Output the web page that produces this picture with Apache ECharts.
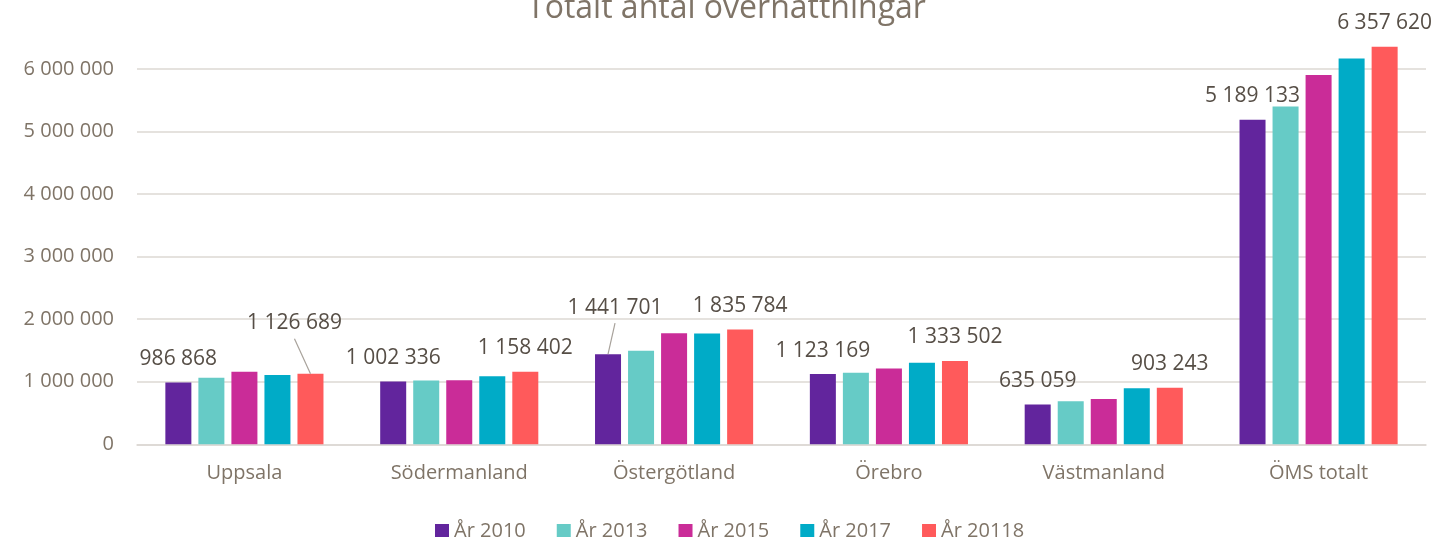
<!DOCTYPE html>
<html>
<head>
<meta charset="utf-8">
<script src="https://cdn.jsdelivr.net/npm/echarts@6/dist/echarts.min.js"></script>
<style>
  html, body { margin: 0; padding: 0; background: #fff; }
  #main { width: 1433px; height: 537px; }
</style>
</head>
<body>
<div id="main"></div>
<script>
var categories = ['Uppsala', 'Södermanland', 'Östergötland', 'Örebro', 'Västmanland', 'ÖMS totalt'];
var yearNames = ['År 2010', 'År 2013', 'År 2015', 'År 2017', 'År 20118'];

var y2010 = [986868, 1002336, 1441701, 1123169, 635059, 5189133];
var y2013 = [1065000, 1020000, 1495000, 1145000, 690000, 5400000];
var y2015 = [1160000, 1025000, 1775000, 1210000, 725000, 5905000];
var y2017 = [1110000, 1090000, 1772000, 1305000, 898000, 6170000];
var y2018 = [1126689, 1158402, 1835784, 1333502, 903243, 6357620];

var colors = ['#62259d', '#66cbc6', '#ca2c98', '#00abc7', '#ff5a5b'];

var axisText = '#7f7467';
var labelText = '#564e46';
var gridColor = '#dcd8d3';

var BAR_GAP = 0.27;
var CAT_GAP = 0.264;

function fmt(v) {
    return String(Math.round(v)).replace(/\B(?=(\d{3})+(?!\d))/g, ' ');
}

// flyttade etiketter (serie -> kategori -> förskjutning)
var movedLabels = {
    0: { 2: { dx: 7, dy: -23 } },   // År 2010, Östergötland
    4: { 0: { dx: -16, dy: -27 } }  // År 20118, Uppsala
};

function makeSeries(idx, values, showLabel) {
    var moved = movedLabels[idx] || {};
    return {
        name: yearNames[idx],
        type: 'bar',
        barGap: (BAR_GAP * 100) + '%',
        barCategoryGap: (CAT_GAP * 100) + '%',
        itemStyle: { color: colors[idx] },
        data: values,
        label: {
            show: showLabel,
            position: 'top',
            distance: 13,
            fontFamily: 'Open Sans',
            fontSize: 21,
            color: labelText,
            formatter: function (p) { return fmt(p.value); }
        },
        labelLayout: function (p) {
            var m = moved[p.dataIndex];
            return m ? { dx: m.dx, dy: m.dy } : {};
        }
    };
}

// hjälplinjer för de flyttade etiketterna
var seriesValues = [y2010, y2013, y2015, y2017, y2018];
var leaderData = [];
Object.keys(movedLabels).forEach(function (s) {
    Object.keys(movedLabels[s]).forEach(function (c) {
        leaderData.push([+c, seriesValues[s][c], +s]);
    });
});

var leaderSeries = {
    type: 'custom',
    silent: true,
    z: 5,
    data: leaderData,
    encode: { x: 0, y: 1 },
    renderItem: function (params, api) {
        var cat = api.value(0), s = api.value(2);
        var m = movedLabels[s][cat];
        var top = api.coord([cat, api.value(1)]);
        var catW = api.size([1, 0])[0];
        var groupW = catW * (1 - CAT_GAP);
        var barW = groupW / (5 + 4 * BAR_GAP);
        var bx = top[0] - groupW / 2 + s * barW * (1 + BAR_GAP) + barW / 2;
        var by = top[1];
        return {
            type: 'line',
            shape: { x1: bx + m.dx, y1: by - 25 + m.dy + 17, x2: bx, y2: by },
            style: { stroke: '#a8a29b', lineWidth: 1.2 }
        };
    }
};

var myChart = echarts.init(document.getElementById('main'));

var option = {
    backgroundColor: '#fff',
    animation: false,
    title: {
        text: 'Totalt antal övernattningar',
        left: 522,
        top: -12,
        textStyle: {
            fontFamily: 'Open Sans',
            fontSize: 32,
            fontWeight: 'normal',
            color: axisText
        }
    },
    legend: {
        data: yearNames,
        left: 430,
        top: 516,
        itemWidth: 14,
        itemHeight: 14,
        itemGap: 31,
        icon: 'rect',
        textStyle: {
            fontFamily: 'Open Sans',
            fontSize: 20,
            color: axisText
        }
    },
    grid: {
        left: 137,
        right: 7,
        top: 6.5,
        bottom: 92.7,
        containLabel: false
    },
    xAxis: {
        type: 'category',
        data: categories,
        axisTick: { show: false },
        axisLine: { lineStyle: { color: gridColor, width: 1.5 } },
        axisLabel: {
            margin: 19,
            fontFamily: 'Open Sans',
            fontSize: 20,
            color: axisText
        }
    },
    yAxis: {
        type: 'value',
        min: 0,
        max: 7000000,
        interval: 1000000,
        axisLine: { show: false },
        axisTick: { show: false },
        splitLine: {
            showMaxLine: false,
            lineStyle: { color: gridColor, width: 1.5 }
        },
        axisLabel: {
            showMaxLabel: false,
            margin: 23,
            fontFamily: 'Open Sans',
            fontSize: 20,
            color: axisText,
            formatter: fmt
        }
    },
    series: [
        makeSeries(0, y2010, true),
        makeSeries(1, y2013, false),
        makeSeries(2, y2015, false),
        makeSeries(3, y2017, false),
        makeSeries(4, y2018, true),
        leaderSeries
    ]
};

myChart.setOption(option);
</script>
</body>
</html>
